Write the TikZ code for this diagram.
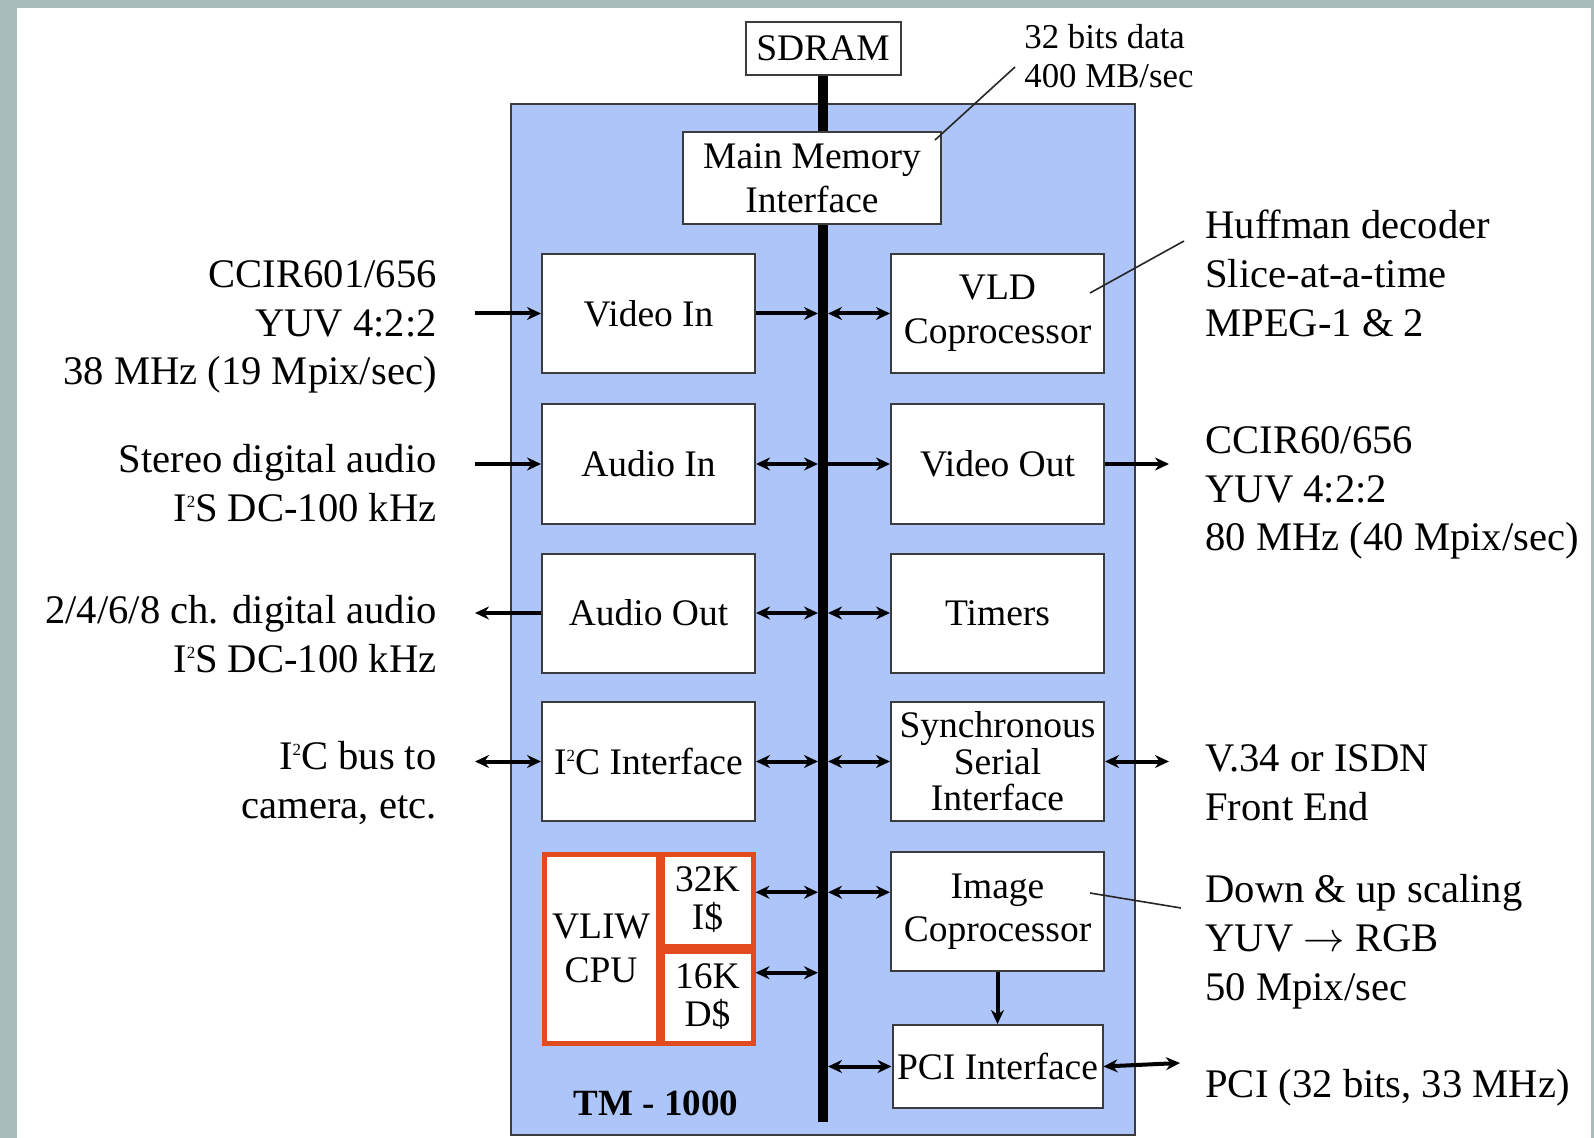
\documentclass[tikz,border=0pt]{standalone}
\usepackage{fontspec}
\setmainfont{Liberation Serif}
\usetikzlibrary{calc,arrows.meta}
\definecolor{FrameGray}{HTML}{A9BCBC}
\definecolor{ChipBlue}{HTML}{AEC5FA}
\definecolor{BoxEdge}{HTML}{3C3C3C}
\definecolor{CpuOrange}{HTML}{E24B1D}
\newcommand{\tmside}{\fontsize{20.3}{24.4}\selectfont}
\newcommand{\tmbox}{\fontsize{18.75}{22.2}\selectfont}
\newcommand{\tmtight}{\fontsize{18.75}{18.3}\selectfont}
\newcommand{\tmcache}{\fontsize{18.75}{19}\selectfont}
\newcommand{\tmnote}{\fontsize{17.4}{19.8}\selectfont}
\newcommand{\tmtwo}{\raisebox{0.75ex}{\fontsize{8.5}{9}\selectfont 2}}

\begin{document}
\begin{tikzpicture}[x=0.5pt,y=-0.5pt,
  blk/.style={draw=BoxEdge,fill=white,line width=1pt,minimum width=106.5pt,
    minimum height=59.5pt,inner sep=1pt,align=center,font=\tmbox},
  cpu/.style={draw=CpuOrange,fill=white,line width=2.5pt,inner sep=1pt,
    align=center,font=\tmcache},
  side/.style={font=\tmside,align=right,anchor=east,inner sep=0pt},
  sider/.style={font=\tmside,align=left,anchor=west,inner sep=0pt},
  uni/.style={-{Stealth[length=7pt,width=6.5pt]},line width=2pt},
  bi/.style={{Stealth[length=7pt,width=6.5pt]}-{Stealth[length=7pt,width=6.5pt]},line width=2pt},
  bus/.style={line width=5pt},
  pin/.style={line width=0.8pt,draw=black!85}]
  \fill[FrameGray] (0,0) rectangle (1594,1138);
  \fill[white] (17,8) rectangle (1591,1138);
  \useasboundingbox (0,0) rectangle (1594,1138);
  \draw[fill=ChipBlue,draw=BoxEdge,line width=1pt] (511,104) rectangle (1135,1135);

  \node[blk,minimum width=77.5pt,minimum height=26.5pt] (sdram) at (823,48.5) {SDRAM};
  \node[blk,minimum width=129pt,minimum height=46pt] (mmi) at (812,178) {Main Memory\\Interface};

  \node[blk] (vin) at (648.5,313.5) {Video In};
  \node[blk] (ain) at (648.5,464) {Audio In};
  \node[blk] (aout) at (648.5,613) {Audio Out};
  \node[blk] (iic) at (648.5,761.5) {I\tmtwo C Interface};

  \node[blk] (vld) at (997.5,313.5) {VLD\\Coprocessor};
  \node[blk] (vout) at (997.5,464) {Video Out};
  \node[blk] (tmr) at (997.5,613) {Timers};
  \node[blk,font=\tmtight] (ssi) at (997.5,761.5) {Synchronous\\Serial\\Interface};
  \node[blk,font=\fontsize{18.75}{21.3}\selectfont] (imgc) at (997.5,911.5) {Image\\Coprocessor};
  \node[blk,minimum width=105pt,minimum height=41.5pt] (pci) at (997.5,1066.5) {PCI Interface};

  \node[cpu,font=\tmbox,minimum width=57pt,minimum height=94.5pt] (vliw) at (601,948.5) {VLIW\\CPU};
  \node[cpu,minimum width=45.5pt,minimum height=46pt] (icache) at (707.5,900) {32K\\I\$};
  \node[cpu,minimum width=45.5pt,minimum height=46pt] (dcache) at (707.5,997) {16K\\D\$};
  \node[font=\bfseries\fontsize{18.5}{22}\selectfont] (tm) at (656,1103) {TM - 1000};

  \coordinate (busbot) at (823,1122);
  \coordinate (busL) at (818,0);
  \coordinate (busR) at (828,0);
  \coordinate (xL) at (475,0);
  \coordinate (xR) at (1169,0);
  \draw[bus] (sdram.south) -- (sdram.south |- mmi.north);
  \draw[bus] (sdram.south |- mmi.south) -- (sdram.south |- busbot);

  \draw[uni] (vin.east) -- (vin.east -| busL);
  \draw[bi] (ain.east) -- (ain.east -| busL);
  \draw[bi] (aout.east) -- (aout.east -| busL);
  \draw[bi] (iic.east) -- (iic.east -| busL);
  \coordinate (iport) at ($(icache.north east)!0.42!(icache.south east)$);
  \coordinate (dport) at ($(dcache.north east)!0.25!(dcache.south east)$);
  \draw[bi] (iport) -- (iport -| busL);
  \draw[bi] (dport) -- (dport -| busL);

  \draw[bi] (vld.west -| busR) -- (vld.west);
  \draw[uni] (vout.west -| busR) -- (vout.west);
  \draw[bi] (tmr.west -| busR) -- (tmr.west);
  \draw[bi] (ssi.west -| busR) -- (ssi.west);
  \draw[bi] (iport -| busR) -- (iport -| imgc.west);
  \draw[bi] (pci.west -| busR) -- (pci.west);
  \draw[uni] (imgc) -- (pci);

  \draw[uni] (vin.west -| xL) -- (vin.west);
  \draw[uni] (ain.west -| xL) -- (ain.west);
  \draw[uni] (aout.west) -- (aout.west -| xL);
  \draw[bi] (iic.west -| xL) -- (iic.west);
  \draw[uni] (vout.east) -- (vout.east -| xR);
  \draw[bi] (ssi.east) -- (ssi.east -| xR);
  \coordinate (pcix) at (1180,1063);
  \draw[bi] (pci.east) -- (pcix);

  \node[side] (vinlbl) at (437,327) {CCIR601/656\\YUV 4:2:2\\38 MHz (19 Mpix/sec)};
  \node[side] (ainlbl) at (437,483) {Stereo digital audio\\I\tmtwo S DC-100 kHz};
  \node[side] (aoutlbl) at (437,634) {2/4/6/8 ch. digital audio\\I\tmtwo S DC-100 kHz};
  \node[side] (iiclbl) at (437,783) {I\tmtwo C bus to\\camera, etc.};

  \node[sider] (vldlbl) at (1205,273.5) {Huffman decoder\\Slice-at-a-time\\MPEG-1 \& 2};
  \node[sider] (voutlbl) at (1205,493) {CCIR60/656\\YUV 4:2:2\\80 MHz (40 Mpix/sec)};
  \node[sider] (ssilbl) at (1205,783) {V.34 or ISDN\\Front End};
  \node[sider] (imglbl) at (1205,942) {Down \& up scaling\\YUV $\rightarrow$ RGB\\50 Mpix/sec};
  \node[sider] (pcilbl) at (1205,1088) {PCI (32 bits, 33 MHz)};
  \node[font=\tmnote,align=left,anchor=west,inner sep=0pt] (memlbl) at (1024,56) {32 bits data\\400 MB/sec};

  \coordinate (mmitip) at (935,140);
  \coordinate (mmiend) at (1015,67);
  \draw[pin] (mmitip) -- (mmiend);
  \coordinate (vldtip) at (1090,293);
  \coordinate (vldend) at (1184,241);
  \draw[pin] (vldtip) -- (vldend);
  \coordinate (imgtip) at (1090,893);
  \coordinate (imgend) at (1181,908);
  \draw[pin] (imgtip) -- (imgend);
\end{tikzpicture}
\end{document}
